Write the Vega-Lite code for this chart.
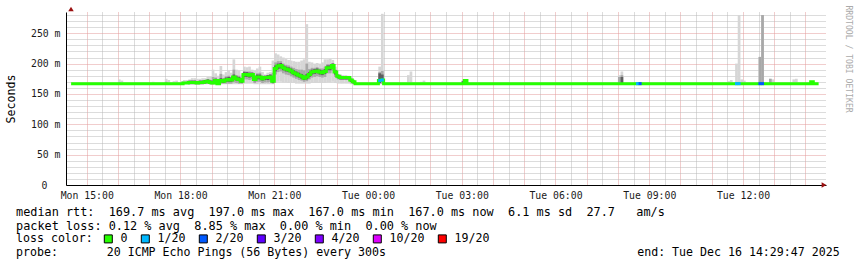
{
  "$schema": "https://vega.github.io/schema/vega-lite/v6.json",
  "width": 760,
  "height": 173,
  "autosize": {"type": "none"},
  "padding": {"left": 66, "top": 12, "right": 31, "bottom": 82},
  "background": "#ffffff",
  "config": {"view": {"stroke": null}, "font": "DejaVu Sans Mono"},
  "datasets": {
    "rtt": [
      {"t":14.5,"m":167},
      {"t":16.042,"m":167,"lo":166,"hi":174,"a":167,"b":169},
      {"t":16.125,"m":167,"lo":166,"hi":172},
      {"t":17.125,"m":167,"lo":166,"hi":170},
      {"t":17.542,"m":167,"lo":166,"hi":175,"a":167,"b":170},
      {"t":17.625,"m":167,"lo":166,"hi":173},
      {"t":17.792,"m":167,"lo":166,"hi":171},
      {"t":17.875,"m":167,"lo":166,"hi":172},
      {"t":18.042,"m":167,"lo":166,"hi":171,"a":167,"b":169},
      {"t":18.125,"m":168,"lo":166,"hi":173,"a":167,"b":170},
      {"t":18.208,"m":168,"lo":166,"hi":173,"a":167,"b":170},
      {"t":18.292,"m":169,"lo":166,"hi":174,"a":167,"b":171,"c":166,"d":172},
      {"t":18.375,"m":169,"lo":166,"hi":176,"a":167,"b":172,"c":166,"d":172},
      {"t":18.458,"m":169,"lo":166,"hi":176,"a":167,"b":172,"c":166,"d":172},
      {"t":18.542,"m":168,"lo":166,"hi":175,"a":167,"b":171,"c":166,"d":171},
      {"t":18.625,"m":169,"lo":166,"hi":175,"a":167,"b":172,"c":166,"d":172},
      {"t":18.708,"m":169,"lo":166,"hi":176,"a":167,"b":172,"c":166,"d":172},
      {"t":18.792,"m":170,"lo":166,"hi":176,"a":167,"b":173,"c":167,"d":173},
      {"t":18.875,"m":171,"lo":166,"hi":178,"a":167,"b":174,"c":168,"d":174},
      {"t":18.958,"m":169,"lo":166,"hi":178,"a":167,"b":173,"c":166,"d":172},
      {"t":19.042,"m":168,"lo":166,"hi":190,"a":167,"b":178,"c":166,"d":172},
      {"t":19.125,"m":172,"lo":166,"hi":184,"a":167,"b":177,"c":169,"d":175},
      {"t":19.208,"m":167,"lo":166,"hi":180,"a":166,"b":173,"c":165,"d":170},
      {"t":19.292,"m":172,"lo":166,"hi":196,"a":167,"b":183,"c":169,"d":176},
      {"t":19.375,"m":171,"lo":166,"hi":182,"a":167,"b":176,"c":168,"d":174},
      {"t":19.458,"m":173,"lo":166,"hi":186,"a":167,"b":179,"c":170,"d":177},
      {"t":19.542,"m":174,"lo":166,"hi":189,"a":167,"b":180,"c":170,"d":178},
      {"t":19.625,"m":173,"lo":166,"hi":185,"a":167,"b":178,"c":170,"d":177},
      {"t":19.708,"m":178,"lo":166,"hi":207,"a":169,"b":190,"c":174,"d":182},
      {"t":19.792,"m":175,"lo":166,"hi":190,"a":168,"b":181,"c":172,"d":179},
      {"t":19.875,"m":174,"lo":166,"hi":188,"a":167,"b":180,"c":171,"d":178},
      {"t":19.958,"m":171,"lo":166,"hi":182,"a":167,"b":176,"c":168,"d":174},
      {"t":20.042,"m":182,"lo":167,"hi":195,"a":174,"b":188,"c":178,"d":186},
      {"t":20.125,"m":182,"lo":167,"hi":194,"a":174,"b":187,"c":178,"d":186},
      {"t":20.208,"m":181,"lo":167,"hi":195,"a":173,"b":187,"c":177,"d":185},
      {"t":20.292,"m":182,"lo":167,"hi":190,"a":174,"b":186,"c":178,"d":185},
      {"t":20.375,"m":174,"lo":166,"hi":188,"a":168,"b":180,"c":171,"d":178},
      {"t":20.458,"m":178,"lo":166,"hi":192,"a":170,"b":184,"c":174,"d":182},
      {"t":20.542,"m":178,"lo":166,"hi":195,"a":170,"b":185,"c":174,"d":182},
      {"t":20.625,"m":175,"lo":166,"hi":186,"a":168,"b":180,"c":172,"d":179},
      {"t":20.708,"m":177,"lo":166,"hi":182,"a":169,"b":180,"c":173,"d":180},
      {"t":20.792,"m":177,"lo":166,"hi":185,"a":169,"b":181,"c":173,"d":181},
      {"t":20.875,"m":178,"lo":166,"hi":186,"a":170,"b":182,"c":174,"d":182},
      {"t":20.958,"m":171,"lo":166,"hi":205,"a":167,"b":185,"c":168,"d":176},
      {"t":21.042,"m":192,"lo":168,"hi":217,"a":182,"b":202,"c":187,"d":197},
      {"t":21.125,"m":196,"lo":170,"hi":215,"a":186,"b":204,"c":191,"d":200},
      {"t":21.208,"m":197,"lo":170,"hi":212,"a":187,"b":204,"c":192,"d":201},
      {"t":21.292,"m":193,"lo":169,"hi":210,"a":184,"b":200,"c":189,"d":197},
      {"t":21.375,"m":191,"lo":169,"hi":208,"a":182,"b":198,"c":187,"d":195},
      {"t":21.458,"m":190,"lo":168,"hi":206,"a":181,"b":197,"c":186,"d":194},
      {"t":21.542,"m":188,"lo":168,"hi":205,"a":179,"b":195,"c":184,"d":192},
      {"t":21.625,"m":185,"lo":168,"hi":204,"a":177,"b":193,"c":181,"d":189},
      {"t":21.708,"m":183,"lo":167,"hi":203,"a":175,"b":191,"c":179,"d":187},
      {"t":21.792,"m":181,"lo":167,"hi":203,"a":173,"b":190,"c":177,"d":185},
      {"t":21.875,"m":179,"lo":167,"hi":205,"a":172,"b":190,"c":175,"d":183},
      {"t":21.958,"m":176,"lo":167,"hi":207,"a":170,"b":189,"c":173,"d":180},
      {"t":22.042,"m":178,"lo":167,"hi":265,"a":171,"b":200,"c":174,"d":183},
      {"t":22.125,"m":182,"lo":167,"hi":203,"a":174,"b":191,"c":178,"d":186},
      {"t":22.208,"m":186,"lo":168,"hi":202,"a":177,"b":193,"c":182,"d":190},
      {"t":22.292,"m":187,"lo":168,"hi":200,"a":178,"b":193,"c":183,"d":191},
      {"t":22.375,"m":188,"lo":168,"hi":201,"a":179,"b":194,"c":184,"d":192},
      {"t":22.458,"m":186,"lo":168,"hi":200,"a":178,"b":192,"c":182,"d":190},
      {"t":22.542,"m":185,"lo":168,"hi":202,"a":177,"b":192,"c":181,"d":189},
      {"t":22.625,"m":187,"lo":168,"hi":207,"a":178,"b":195,"c":183,"d":191},
      {"t":22.708,"m":193,"lo":169,"hi":207,"a":184,"b":199,"c":189,"d":197},
      {"t":22.792,"m":193,"lo":169,"hi":208,"a":184,"b":199,"c":189,"d":197},
      {"t":22.875,"m":197,"lo":170,"hi":206,"a":188,"b":201,"c":193,"d":200},
      {"t":22.958,"m":186,"lo":168,"hi":195,"a":178,"b":190,"c":182,"d":189},
      {"t":23.042,"m":179,"lo":167,"hi":183,"a":174,"b":181,"c":176,"d":182},
      {"t":23.125,"m":177,"lo":167,"hi":182,"a":173,"b":179,"c":174,"d":180},
      {"t":23.208,"m":177,"lo":167,"hi":181,"a":173,"b":179,"c":174,"d":179},
      {"t":23.292,"m":177,"lo":167,"hi":181,"a":173,"b":179,"c":174,"d":179},
      {"t":23.375,"m":177,"lo":167,"hi":180,"a":173,"b":178,"c":174,"d":179},
      {"t":23.458,"m":173,"lo":166,"hi":178,"a":169,"b":175,"c":170,"d":175},
      {"t":23.542,"m":170,"lo":166,"hi":174,"a":167,"b":172,"c":167,"d":172},
      {"t":23.625,"m":167},
      {"t":24.292,"m":167},
      {"t":24.375,"m":172,"lo":166,"hi":195,"a":167,"b":186,"c":168,"d":184},
      {"t":24.458,"m":173,"lo":166,"hi":282,"a":167,"b":188,"c":170,"d":182},
      {"t":24.542,"m":167},
      {"t":25.292,"m":167,"lo":166,"hi":181},
      {"t":25.375,"m":167,"lo":166,"hi":187},
      {"t":25.708,"m":167,"lo":166,"hi":170},
      {"t":25.792,"m":167,"lo":166,"hi":172},
      {"t":27.042,"m":167,"lo":166,"hi":172,"a":167,"b":172,"c":167,"d":171},
      {"t":27.125,"m":172,"lo":166,"hi":174,"a":167,"b":173},
      {"t":27.208,"m":167},
      {"t":32.042,"m":167,"lo":166,"hi":181,"a":167,"b":178},
      {"t":32.125,"m":167,"lo":166,"hi":187,"a":167,"b":181,"c":167,"d":178},
      {"t":35.542,"m":167,"lo":166,"hi":171},
      {"t":35.625,"m":167,"lo":166,"hi":173},
      {"t":35.792,"m":167,"lo":166,"hi":200},
      {"t":35.875,"m":167,"lo":166,"hi":280},
      {"t":35.958,"m":167,"lo":166,"hi":174},
      {"t":36.042,"m":167,"lo":166,"hi":172},
      {"t":36.542,"m":167,"lo":166,"hi":211,"a":167,"b":211},
      {"t":36.625,"m":167,"lo":166,"hi":280,"a":167,"b":280},
      {"t":36.875,"m":167,"lo":166,"hi":175,"a":167,"b":175},
      {"t":36.958,"m":167,"lo":166,"hi":174},
      {"t":37.625,"m":167,"lo":166,"hi":174},
      {"t":37.708,"m":167,"lo":166,"hi":175},
      {"t":38.125,"m":167},
      {"t":38.208,"m":170},
      {"t":38.292,"m":167},
      {"t":38.42,"m":167}
    ],
    "loss": [
      {"t":24.375,"m":172,"loss":"1/20"},
      {"t":24.458,"m":173,"loss":"1/20"},
      {"t":32.625,"m":167,"loss":"1/20"},
      {"t":32.708,"m":167,"loss":"2/20"},
      {"t":35.792,"m":167,"loss":"1/20"},
      {"t":35.875,"m":167,"loss":"1/20"},
      {"t":36.542,"m":167,"loss":"2/20"},
      {"t":36.625,"m":167,"loss":"2/20"}
    ]
  },
  "title": {
    "text": [
      "median rtt:\u00a0\u00a0169.7 ms avg\u00a0\u00a0197.0 ms max\u00a0\u00a0167.0 ms min\u00a0\u00a0167.0 ms now\u00a0\u00a06.1 ms sd\u00a0\u00a027.7\u00a0\u00a0\u00a0am/s",
      "packet loss: 0.12 % avg\u00a0\u00a08.85 % max\u00a0\u00a00.00 % min\u00a0\u00a00.00 % now"
    ],
    "subtitle": [
      "loss color:",
      "probe:\u00a0\u00a0\u00a0\u00a0\u00a0\u00a0\u00a020 ICMP Echo Pings (56 Bytes) every 300s\u00a0\u00a0\u00a0\u00a0\u00a0\u00a0\u00a0\u00a0\u00a0\u00a0\u00a0\u00a0\u00a0\u00a0\u00a0\u00a0\u00a0\u00a0\u00a0\u00a0\u00a0\u00a0\u00a0\u00a0\u00a0\u00a0\u00a0\u00a0\u00a0\u00a0\u00a0\u00a0\u00a0\u00a0\u00a0\u00a0end: Tue Dec 16 14:29:47 2025"
    ],
    "orient": "bottom",
    "anchor": "start",
    "frame": "group",
    "font": "DejaVu Sans Mono",
    "fontSize": 11.85,
    "fontWeight": "normal",
    "color": "#000000",
    "lineHeight": 14,
    "subtitleFont": "DejaVu Sans Mono",
    "subtitleFontSize": 11.6,
    "subtitleColor": "#000000",
    "subtitleLineHeight": 14,
    "subtitlePadding": 0,
    "offset": -38,
    "dx": -50
  },
  "layer": [
    {
      "data": {"name": "rtt"},
      "mark": {"type": "bar", "width": 2.7, "color": "#d6d6d6"},
      "encoding": {
        "x": {
          "field": "t", "type": "quantitative",
          "scale": {"domain": [14.4964, 38.4964], "zero": false, "nice": false},
          "axis": {
            "values": [15,15.5,16,16.5,17,17.5,18,18.5,19,19.5,20,20.5,21,21.5,22,22.5,23,23.5,24,24.5,25,25.5,26,26.5,27,27.5,28,28.5,29,29.5,30,30.5,31,31.5,32,32.5,33,33.5,34,34.5,35,35.5,36,36.5,37,37.5,38],
            "labelExpr": "datum.value % 3 == 0 ? (datum.value < 24 ? 'Mon ' : 'Tue ') + (datum.value % 24 < 10 ? '0' : '') + (datum.value % 24) + ':00' : ''",
            "grid": true,
            "gridColor": {"condition": {"test": "datum.value % 1 == 0", "value": "#e39a9a"}, "value": "#b8b8b8"},
            "gridDash": [1, 1],
            "gridWidth": 1,
            "ticks": false,
            "domain": true,
            "domainColor": "#000000",
            "domainWidth": 1,
            "labelFont": "DejaVu Sans Mono",
            "labelFontSize": 9.8,
            "labelColor": "#1a1a1a",
            "labelPadding": 5,
            "labelOverlap": false,
            "labelFlush": false,
            "labelBound": false,
            "title": null
          }
        },
        "y": {
          "field": "lo", "type": "quantitative",
          "scale": {"domain": [0, 285], "nice": false, "zero": true},
          "axis": {
            "orient": "left",
            "values": [0,10,20,30,40,50,60,70,80,90,100,110,120,130,140,150,160,170,180,190,200,210,220,230,240,250,260,270,280],
            "labelExpr": "datum.value % 50 == 0 ? (datum.value == 0 ? '0' : datum.value + ' m') : ''",
            "grid": true,
            "gridColor": {"condition": {"test": "datum.value % 50 == 0", "value": "#e39a9a"}, "value": "#b8b8b8"},
            "gridDash": [1, 1],
            "gridWidth": 1,
            "ticks": false,
            "domain": true,
            "domainColor": "#000000",
            "domainWidth": 1,
            "labelFont": "DejaVu Sans Mono",
            "labelFontSize": 9.8,
            "labelColor": "#1a1a1a",
            "labelPadding": {"condition": {"test": "datum.value == 0", "value": 19}, "value": 6},
            "labelOverlap": false,
            "labelFlush": false,
            "title": "Seconds",
            "titleFont": "DejaVu Sans Mono",
            "titleFontSize": 11.6,
            "titleFontWeight": "normal",
            "titleColor": "#000000",
            "titleAngle": -90,
            "titleAlign": "center",
            "titleBaseline": "middle",
            "titleX": -55,
            "titleY": 86.5
          }
        },
        "y2": {"field": "hi"}
      }
    },
    {
      "data": {"name": "rtt"},
      "mark": {"type": "bar", "width": 2.7, "color": "#a8a8a8"},
      "encoding": {
        "x": {"field": "t", "type": "quantitative", "axis": null},
        "y": {"field": "a", "type": "quantitative", "axis": null},
        "y2": {"field": "b"}
      }
    },
    {
      "data": {"name": "rtt"},
      "mark": {"type": "bar", "width": 2.7, "color": "#5e5e5e"},
      "encoding": {
        "x": {"field": "t", "type": "quantitative", "axis": null},
        "y": {"field": "c", "type": "quantitative", "axis": null},
        "y2": {"field": "d"}
      }
    },
    {
      "data": {"name": "rtt"},
      "mark": {"type": "line", "interpolate": "step", "color": "#26ff00", "strokeWidth": 3},
      "encoding": {
        "x": {"field": "t", "type": "quantitative", "axis": null},
        "y": {"field": "m", "type": "quantitative", "axis": null}
      }
    },
    {
      "data": {"name": "loss"},
      "mark": {"type": "point", "shape": "square", "filled": true, "size": 9, "opacity": 1},
      "encoding": {
        "x": {"field": "t", "type": "quantitative", "axis": null},
        "y": {"field": "m", "type": "quantitative", "axis": null},
        "color": {
          "field": "loss", "type": "nominal",
          "scale": {"domain": ["0","1/20","2/20","3/20","4/20","10/20","19/20"], "range": ["#26ff00","#00b8ff","#0059ff","#5e00ff","#7e00ff","#dd00ff","#ff0000"]},
          "legend": {
            "orient": "none", "legendX": 36.5, "legendY": 221,
            "direction": "horizontal", "columns": 7, "gridAlign": "each",
            "title": null,
            "symbolType": "square", "symbolSize": 64,
            "symbolStrokeColor": "#000000", "symbolStrokeWidth": 1, "symbolOpacity": 1,
            "labelFont": "DejaVu Sans Mono", "labelFontSize": 11.6, "labelColor": "#000000",
            "labelOffset": 6.5, "columnPadding": 10, "padding": 0
          }
        }
      }
    },
    {
      "data": {"values": [{}]},
      "mark": {"type": "point", "shape": "triangle-up", "filled": true, "size": 30, "color": "#9b1010", "opacity": 1, "yOffset": -3},
      "encoding": {
        "x": {"datum": 14.4964, "type": "quantitative", "axis": null},
        "y": {
          "datum": 285, "type": "quantitative",
          "axis": {
            "orient": "right", "title": "RRDTOOL / TOBI OETIKER",
            "labels": false, "ticks": false, "domain": false, "grid": false,
            "titleFont": "DejaVu Sans Mono", "titleFontSize": 8.1, "titleFontWeight": "normal",
            "titleColor": "#aaaaaa", "titleAngle": 90, "titleAlign": "left", "titleBaseline": "middle",
            "titleX": 21.8, "titleY": -7
          }
        }
      }
    },
    {
      "data": {"values": [{}]},
      "mark": {"type": "point", "shape": "triangle-right", "filled": true, "size": 30, "color": "#9b1010", "opacity": 1, "xOffset": 3},
      "encoding": {
        "x": {"datum": 38.4964, "type": "quantitative", "axis": null},
        "y": {"datum": 0, "type": "quantitative", "axis": null}
      }
    }
  ],
  "resolve": {"axis": {"x": "independent", "y": "independent"}}
}
